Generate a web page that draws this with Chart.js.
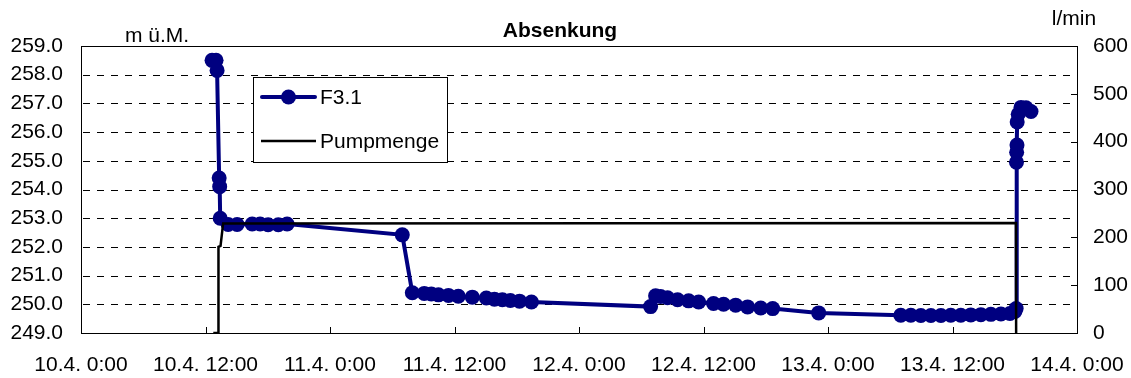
<!DOCTYPE html>
<html>
<head>
<meta charset="utf-8">
<title>Absenkung</title>
<script src="https://cdn.jsdelivr.net/npm/chart.js@4.4.1/dist/chart.umd.min.js"></script>
<style>
  html, body { margin: 0; padding: 0; background: #fff; }
  #wrap { width: 1131px; height: 378px; }
</style>
</head>
<body>
<div id="wrap"><canvas id="chart" width="1131" height="378"></canvas></div>
<script>
// Time axis: hours counted from 10.4. 0:00
const xTickLabels = ['10.4. 0:00', '10.4. 12:00', '11.4. 0:00', '11.4. 12:00', '12.4. 0:00',
                     '12.4. 12:00', '13.4. 0:00', '13.4. 12:00', '14.4. 0:00'];

// Water level F3.1 (m ü.M.)
const f31Times = [
  '10.4. 12:38', '10.4. 13:01', '10.4. 13:07', '10.4. 13:19', '10.4. 13:22', '10.4. 13:25',
  '10.4. 14:11', '10.4. 15:03', '10.4. 16:30', '10.4. 17:16', '10.4. 18:02', '10.4. 19:01', '10.4. 19:52',
  '11.4. 6:58', '11.4. 7:56', '11.4. 9:05', '11.4. 9:46', '11.4. 10:27', '11.4. 11:25', '11.4. 12:22',
  '11.4. 13:43', '11.4. 15:04', '11.4. 15:51', '11.4. 16:37', '11.4. 17:23', '11.4. 18:16', '11.4. 19:25',
  '12.4. 6:54', '12.4. 7:23', '12.4. 7:52', '12.4. 8:32', '12.4. 9:30', '12.4. 10:34', '12.4. 11:32',
  '12.4. 12:58', '12.4. 13:56', '12.4. 15:06', '12.4. 16:15', '12.4. 17:31', '12.4. 18:40', '12.4. 23:06',
  '13.4. 7:01', '13.4. 7:59', '13.4. 8:57', '13.4. 9:55', '13.4. 10:53', '13.4. 11:50', '13.4. 12:48',
  '13.4. 13:46', '13.4. 14:44', '13.4. 15:42', '13.4. 16:40', '13.4. 17:32', '13.4. 18:01', '13.4. 18:08',
  '13.4. 18:10', '13.4. 18:11', '13.4. 18:13', '13.4. 18:14', '13.4. 18:20', '13.4. 18:36', '13.4. 19:05',
  '13.4. 19:34'
];
const f31Levels = [
  258.50, 258.50, 258.15, 254.40, 254.10, 253.00,
  252.78, 252.78, 252.80, 252.80, 252.77, 252.77, 252.80,
  252.42, 250.40, 250.38, 250.36, 250.33, 250.31, 250.28,
  250.25, 250.22, 250.18, 250.16, 250.13, 250.11, 250.08,
  249.92, 250.30, 250.27, 250.23, 250.16, 250.12, 250.08,
  250.03, 250.00, 249.97, 249.91, 249.87, 249.85, 249.70,
  249.62, 249.62, 249.61, 249.61, 249.61, 249.62, 249.62,
  249.63, 249.64, 249.65, 249.66, 249.68, 249.75, 249.85,
  254.95, 255.30, 255.55, 256.35, 256.62, 256.86, 256.85,
  256.72
];

// Pumping rate (l/min)
const pumpTimes = ['10.4. 12:45', '10.4. 13:14', '10.4. 13:15', '10.4. 13:27', '10.4. 13:42',
                   '13.4. 18:07', '13.4. 18:08'];
const pumpRates = [0, 0, 180, 182, 229, 230, 0];

// "D.M. H:MM" -> hours since 10.4. 0:00
function toHours(s) {
  const m = s.match(/^(\d+)\.(\d+)\.\s+(\d+):(\d+)$/);
  return (Number(m[1]) - 10) * 24 + Number(m[3]) + Number(m[4]) / 60;
}

const NAVY = '#000080';
const FONT = "'Liberation Sans', Arial, Helvetica, sans-serif";
Chart.defaults.font.family = FONT;
Chart.defaults.font.size = 21;
Chart.defaults.color = '#000';

const f31Data = f31Times.map((t, i) => ({ x: toHours(t), y: f31Levels[i] }));
const pumpData = pumpTimes.map((t, i) => ({ x: toHours(t), y: pumpRates[i] }));

// Dashed horizontal grid, top frame line and inward tick marks
const framePlugin = {
  id: 'frame',
  beforeDatasetsDraw(chart) {
    const { ctx, chartArea: a, scales } = chart;
    const ys = scales.y;
    ctx.save();
    ctx.strokeStyle = '#000';
    ctx.lineWidth = 1;
    ctx.setLineDash([7, 7]);
    for (let v = 250; v <= 258; v++) {
      const y = Math.round(ys.getPixelForValue(v)) + 0.5;
      ctx.beginPath();
      ctx.moveTo(a.left + 2, y);
      ctx.lineTo(a.right, y);
      ctx.stroke();
    }
    ctx.restore();
  },
  afterDatasetsDraw(chart) {
    const { ctx, chartArea: a, scales } = chart;
    ctx.save();
    ctx.strokeStyle = '#000';
    ctx.lineWidth = 1;
    ctx.setLineDash([]);
    // top edge of the plot area
    const yTop = Math.round(scales.y.getPixelForValue(259)) + 0.5;
    ctx.beginPath();
    ctx.moveTo(a.left, yTop);
    ctx.lineTo(a.right, yTop);
    ctx.stroke();
    // bottom ticks pointing up
    scales.x.ticks.forEach(t => {
      const x = Math.round(scales.x.getPixelForValue(t.value)) + 0.5;
      ctx.beginPath();
      ctx.moveTo(x, a.bottom);
      ctx.lineTo(x, a.bottom - 6);
      ctx.stroke();
    });
    // right ticks pointing left
    scales.y2.ticks.forEach(t => {
      const y = Math.round(scales.y2.getPixelForValue(t.value)) + 0.5;
      ctx.beginPath();
      ctx.moveTo(a.right, y);
      ctx.lineTo(a.right - 6, y);
      ctx.stroke();
    });
    ctx.restore();
  },
  afterDraw(chart) {
    const { ctx } = chart;
    ctx.save();
    ctx.fillStyle = '#000';
    ctx.textBaseline = 'alphabetic';
    ctx.textAlign = 'center';
    ctx.font = 'bold 21px ' + FONT;
    ctx.fillText('Absenkung', 560, 37);
    ctx.font = '21px ' + FONT;
    ctx.fillText('m ü.M.', 157, 42);
    ctx.fillText('l/min', 1074, 25);

    // legend box
    const bx = 253.5, by = 77.5, bw = 194, bh = 85;
    ctx.fillStyle = '#fff';
    ctx.fillRect(bx, by, bw, bh);
    ctx.strokeStyle = '#000';
    ctx.lineWidth = 1;
    ctx.strokeRect(bx, by, bw, bh);

    const ds = chart.data.datasets;
    const f31 = ds.find(d => d.label === 'F3.1');
    const pump = ds.find(d => d.label === 'Pumpmenge');
    // F3.1 entry
    ctx.strokeStyle = f31.borderColor;
    ctx.lineWidth = f31.borderWidth;
    ctx.lineCap = 'round';
    ctx.beginPath();
    ctx.moveTo(262, 97);
    ctx.lineTo(315, 97);
    ctx.stroke();
    ctx.fillStyle = f31.pointBackgroundColor;
    ctx.beginPath();
    ctx.arc(288.5, 97, f31.pointRadius, 0, Math.PI * 2);
    ctx.fill();
    // Pumpmenge entry
    ctx.strokeStyle = pump.borderColor;
    ctx.lineWidth = pump.borderWidth;
    ctx.lineCap = 'butt';
    ctx.beginPath();
    ctx.moveTo(261, 141);
    ctx.lineTo(316, 141);
    ctx.stroke();

    ctx.fillStyle = '#000';
    ctx.textAlign = 'left';
    ctx.textBaseline = 'middle';
    ctx.font = '21px ' + FONT;
    ctx.fillText(f31.label, 320, 98);
    ctx.fillText(pump.label, 320, 142);
    ctx.restore();
  }
};

new Chart(document.getElementById('chart'), {
  type: 'line',
  data: {
    datasets: [
      {
        label: 'Pumpmenge',
        data: pumpData,
        yAxisID: 'y2',
        borderColor: '#000',
        borderWidth: 2.5,
        pointRadius: 0,
        tension: 0,
        order: 0
      },
      {
        label: 'F3.1',
        data: f31Data,
        yAxisID: 'y',
        borderColor: NAVY,
        backgroundColor: NAVY,
        borderWidth: 4,
        pointRadius: 7.5,
        pointBorderWidth: 0,
        pointBackgroundColor: NAVY,
        pointBorderColor: NAVY,
        tension: 0,
        order: 1
      }
    ]
  },
  options: {
    responsive: false,
    animation: false,
    events: [],
    layout: { padding: { top: 46, left: 0, right: 0, bottom: 0 } },
    plugins: {
      legend: { display: false },
      title: { display: false },
      tooltip: { enabled: false }
    },
    scales: {
      x: {
        type: 'linear',
        position: 'bottom',
        min: 0,
        max: 96,
        afterBuildTicks: s => { s.ticks = xTickLabels.map((_, i) => ({ value: i * 12 })); },
        ticks: {
          autoSkip: false,
          maxRotation: 0,
          minRotation: 0,
          padding: 20,
          callback: v => xTickLabels[Math.round(v / 12)]
        },
        grid: { display: false, drawTicks: false },
        border: { display: true, color: '#000', width: 1 },
        afterFit: s => { s.height = 45; s.paddingLeft = 0; s.paddingRight = 0; }
      },
      y: {
        position: 'left',
        min: 249,
        max: 259,
        afterBuildTicks: s => {
          const t = [];
          for (let v = 249; v <= 259; v++) t.push({ value: v });
          s.ticks = t;
        },
        ticks: { padding: 18, callback: v => Number(v).toFixed(1) },
        grid: { display: false, drawTicks: false },
        border: { display: true, color: '#000', width: 1 },
        afterFit: s => { s.width = 81; }
      },
      y2: {
        position: 'right',
        min: 0,
        max: 600,
        ticks: { stepSize: 100, padding: 16, callback: v => String(v) },
        grid: { display: false, drawTicks: false },
        border: { display: true, color: '#000', width: 1 },
        afterFit: s => { s.width = 54; }
      }
    }
  },
  plugins: [framePlugin]
});
</script>
</body>
</html>
